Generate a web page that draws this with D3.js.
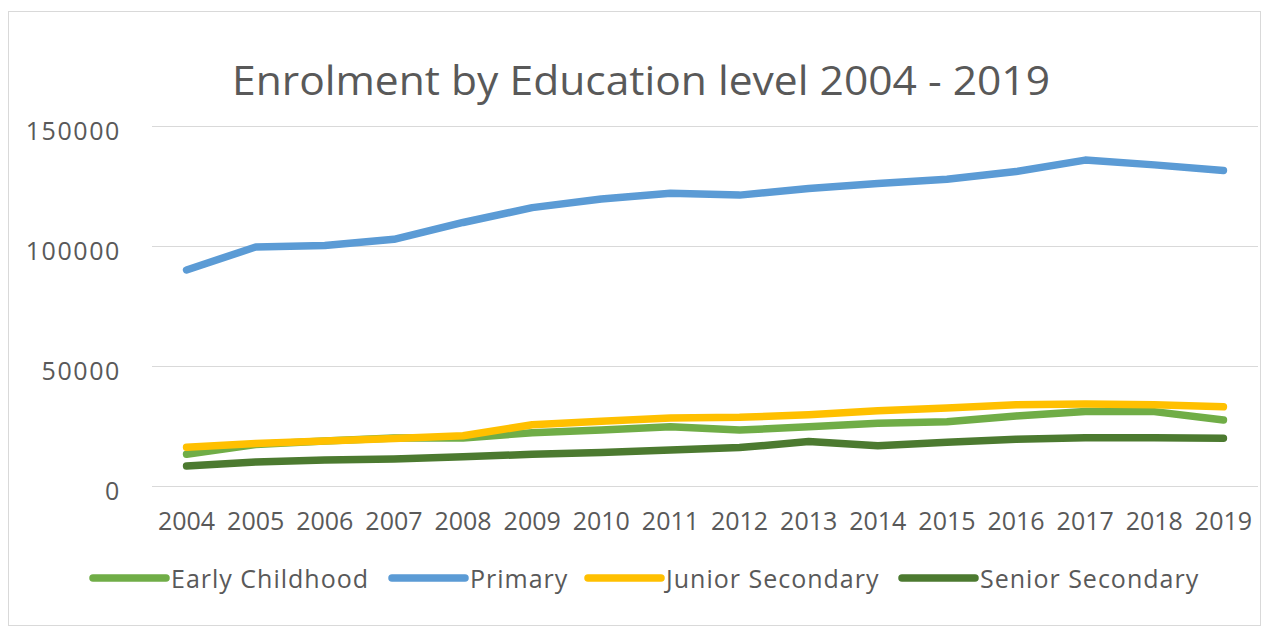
<!DOCTYPE html>
<html>
<head>
<meta charset="utf-8">
<script src="https://cdn.jsdelivr.net/npm/d3@7"></script>
<style>
  html, body { margin: 0; padding: 0; background: #fff; }
  svg { display: block; }
  text { font-family: "Open Sans", "DejaVu Sans", sans-serif; fill: #595959; }
</style>
</head>
<body>
<svg id="chart" width="1269" height="633"></svg>
<script>
const title = "Enrolment by Education level 2004 - 2019";
const years = ["2004","2005","2006","2007","2008","2009","2010","2011","2012","2013","2014","2015","2016","2017","2018","2019"];
const yTicks = [0, 50000, 100000, 150000];
const seriesNames = ["Early Childhood", "Primary", "Junior Secondary", "Senior Secondary"];
const seriesColors = ["#70AD47", "#5B9BD5", "#FFC000", "#4C7A30"];
const earlyChildhood = [13200, 17300, 18750, 20000, 20000, 22200, 23300, 24700, 23300, 24700, 26100, 26800, 29200, 31000, 31000, 27500];
const primary = [90000, 99600, 100200, 102800, 109800, 116000, 119600, 122000, 121200, 124000, 126000, 127800, 131000, 135800, 133800, 131500];
const juniorSecondary = [16100, 17700, 18750, 19800, 20950, 25500, 26960, 28300, 28600, 29700, 31400, 32500, 33870, 34200, 33900, 33000];
const seniorSecondary = [8300, 10000, 10800, 11250, 12200, 13200, 14000, 15000, 16000, 18500, 16800, 18200, 19500, 20100, 20100, 19900];
const seriesValues = [earlyChildhood, primary, juniorSecondary, seniorSecondary];

const svg = d3.select("#chart");

// outer chart border
svg.append("rect").attr("x", 8.5).attr("y", 11.5).attr("width", 1252).attr("height", 614)
  .attr("fill", "#fff").attr("stroke", "#d9d9d9").attr("stroke-width", 1);

const plot = { left: 152, right: 1258, top: 126, bottom: 486 };

const x = d3.scaleBand().domain(years).range([plot.left, plot.right]).padding(0);
const y = d3.scaleLinear().domain([0, 150000]).range([plot.bottom, plot.top]);

// title
svg.append("text").attr("x", 641).attr("y", 95).attr("text-anchor", "middle")
  .attr("font-size", 40).attr("textLength", 818).attr("lengthAdjust", "spacingAndGlyphs")
  .text(title);

// gridlines
svg.append("g").selectAll("line").data(yTicks).join("line")
  .attr("x1", plot.left).attr("x2", plot.right)
  .attr("y1", d => Math.round(y(d)) + 0.5).attr("y2", d => Math.round(y(d)) + 0.5)
  .attr("stroke", "#d9d9d9").attr("stroke-width", 1);

// y axis labels
const yAxis = d3.axisLeft(y).tickValues(yTicks).tickSize(0).tickPadding(0).tickFormat(d3.format("d"));
const gy = svg.append("g").attr("transform", `translate(121,5)`).call(yAxis);
gy.select(".domain").remove();
gy.selectAll("text").attr("font-size", 25).attr("fill", "#595959").attr("font-family", "Open Sans")
  .attr("letter-spacing", 1.6);

// x axis labels
const xAxis = d3.axisBottom(x).tickSize(0).tickPadding(0);
const gx = svg.append("g").attr("transform", `translate(0,${plot.bottom + 26})`).call(xAxis);
gx.select(".domain").remove();
gx.selectAll("text").attr("font-size", 25).attr("fill", "#595959").attr("font-family", "Open Sans");

// lines
const line = d3.line()
  .x((d, i) => x(years[i]) + x.bandwidth() / 2)
  .y(d => y(d));

svg.append("g").selectAll("path").data(seriesValues).join("path")
  .attr("d", d => line(d))
  .attr("fill", "none")
  .attr("stroke", (d, i) => seriesColors[i])
  .attr("stroke-width", 7.5)
  .attr("stroke-linecap", "round")
  .attr("stroke-linejoin", "round");

// legend
const legendX = [93, 392, 588, 902];
const legend = svg.append("g").selectAll("g").data(seriesNames).join("g")
  .attr("transform", (d, i) => `translate(${legendX[i]},578)`);
legend.append("line").attr("x1", 0).attr("x2", 73).attr("y1", 0).attr("y2", 0)
  .attr("stroke", (d, i) => seriesColors[i]).attr("stroke-width", 7.5).attr("stroke-linecap", "round");
legend.append("text").attr("x", 78).attr("y", 1).attr("dy", "0.35em")
  .attr("font-size", 25).attr("letter-spacing", 1).text(d => d);
</script>
</body>
</html>
